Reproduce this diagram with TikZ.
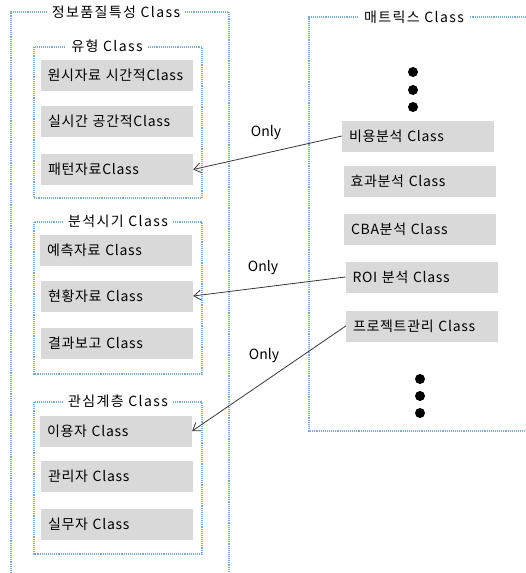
\documentclass[tikz,border=0pt]{standalone}
\usepackage{fontspec}
\setmainfont{Noto Sans CJK KR}
\usetikzlibrary{arrows.meta}
\definecolor{frameblue}{RGB}{120,172,222}
\definecolor{boxgray}{RGB}{217,217,217}
\definecolor{arrowgray}{RGB}{55,55,55}
\tikzset{
	frameline/.style={draw=frameblue, densely dotted, line width=1.1pt},
	frametitle/.style={fill=white, inner xsep=5pt, inner ysep=1pt, font=\fontsize{14}{16}\selectfont\addfontfeatures{LetterSpace=10}},
	classbox/.style={fill=boxgray, minimum height=31pt, text width=138pt, align=left, inner xsep=7pt, font=\fontsize{14}{16}\selectfont\addfontfeatures{LetterSpace=5}},
	onlyarrow/.style={draw=arrowgray, line width=0.8pt, -{Straight Barb[length=7pt,width=10pt]}},
	onlylabel/.style={font=\fontsize{14}{16}\selectfont}
}
\begin{document}
\begin{tikzpicture}[x=1pt, y=-1pt]
	\useasboundingbox (0,0) rectangle (526,573);
	% Rahmen links
	\draw[frameline] (11,573) -- (11,12) -- (229,12) -- (229,573);
	\node[frametitle] (qualTitle) at (116,12) {정보품질특성 Class};

	% Gruppe Typ
	\draw[frameline] (34,47) rectangle (202,198);
	\node[frametitle] (typTitle) at (107,46) {유형 Class};
	\node[classbox] (raw) at (116.5,75.5) {원시자료 시간적Class};
	\node[classbox] (realtime) at (117,121.5) {실시간 공간적Class};
	\node[classbox] (pattern) at (117,169.5) {패턴자료Class};

	% Gruppe Analysezeitpunkt
	\draw[frameline] (34,222) rectangle (202,374);
	\node[frametitle] (timeTitle) at (118,221) {분석시기 Class};
	\node[classbox] (forecast) at (116,250.5) {예측자료 Class};
	\node[classbox] (status) at (117,296) {현황자료 Class};
	\node[classbox] (result) at (117,343.5) {결과보고 Class};

	% Gruppe Interessenschicht
	\draw[frameline] (34,402) rectangle (202,554);
	\node[frametitle] (layerTitle) at (118,401) {관심계층 Class};
	\node[classbox] (user) at (116,431) {이용자 Class};
	\node[classbox] (admin) at (117,476) {관리자 Class};
	\node[classbox] (staff) at (117,524) {실무자 Class};

	% Rahmen rechts
	\draw[frameline] (526,17) -- (309,17) -- (309,431) -- (526,431);
	\node[frametitle] (matrixTitle) at (414,17) {매트릭스 Class};
	\foreach \y in {72,90,107}
		\fill (413,\y) circle[radius=5pt];
	\node[classbox] (cost) at (418,136) {비용분석 Class};
	\node[classbox] (effect) at (419.5,181) {효과분석 Class};
	\node[classbox] (cba) at (420,229.5) {CBA분석 Class};
	\node[classbox] (roi) at (421.5,277) {ROI 분석 Class};
	\node[classbox] (project) at (422,326) {프로젝트관리 Class};
	\foreach \y in {379,396,413}
		\fill (420,\y) circle[radius=5pt];

	% Verbindungen
	\draw[onlyarrow] (cost.west) -- (pattern.east);
	\draw[onlyarrow] (roi.west) -- (status.east);
	\draw[onlyarrow] (project.west) -- (user.east);
	\node[onlylabel] (onlyA) at (266,133) {Only};
	\node[onlylabel] (onlyB) at (263,268) {Only};
	\node[onlylabel] (onlyC) at (264,356) {Only};
\end{tikzpicture}
\end{document}
